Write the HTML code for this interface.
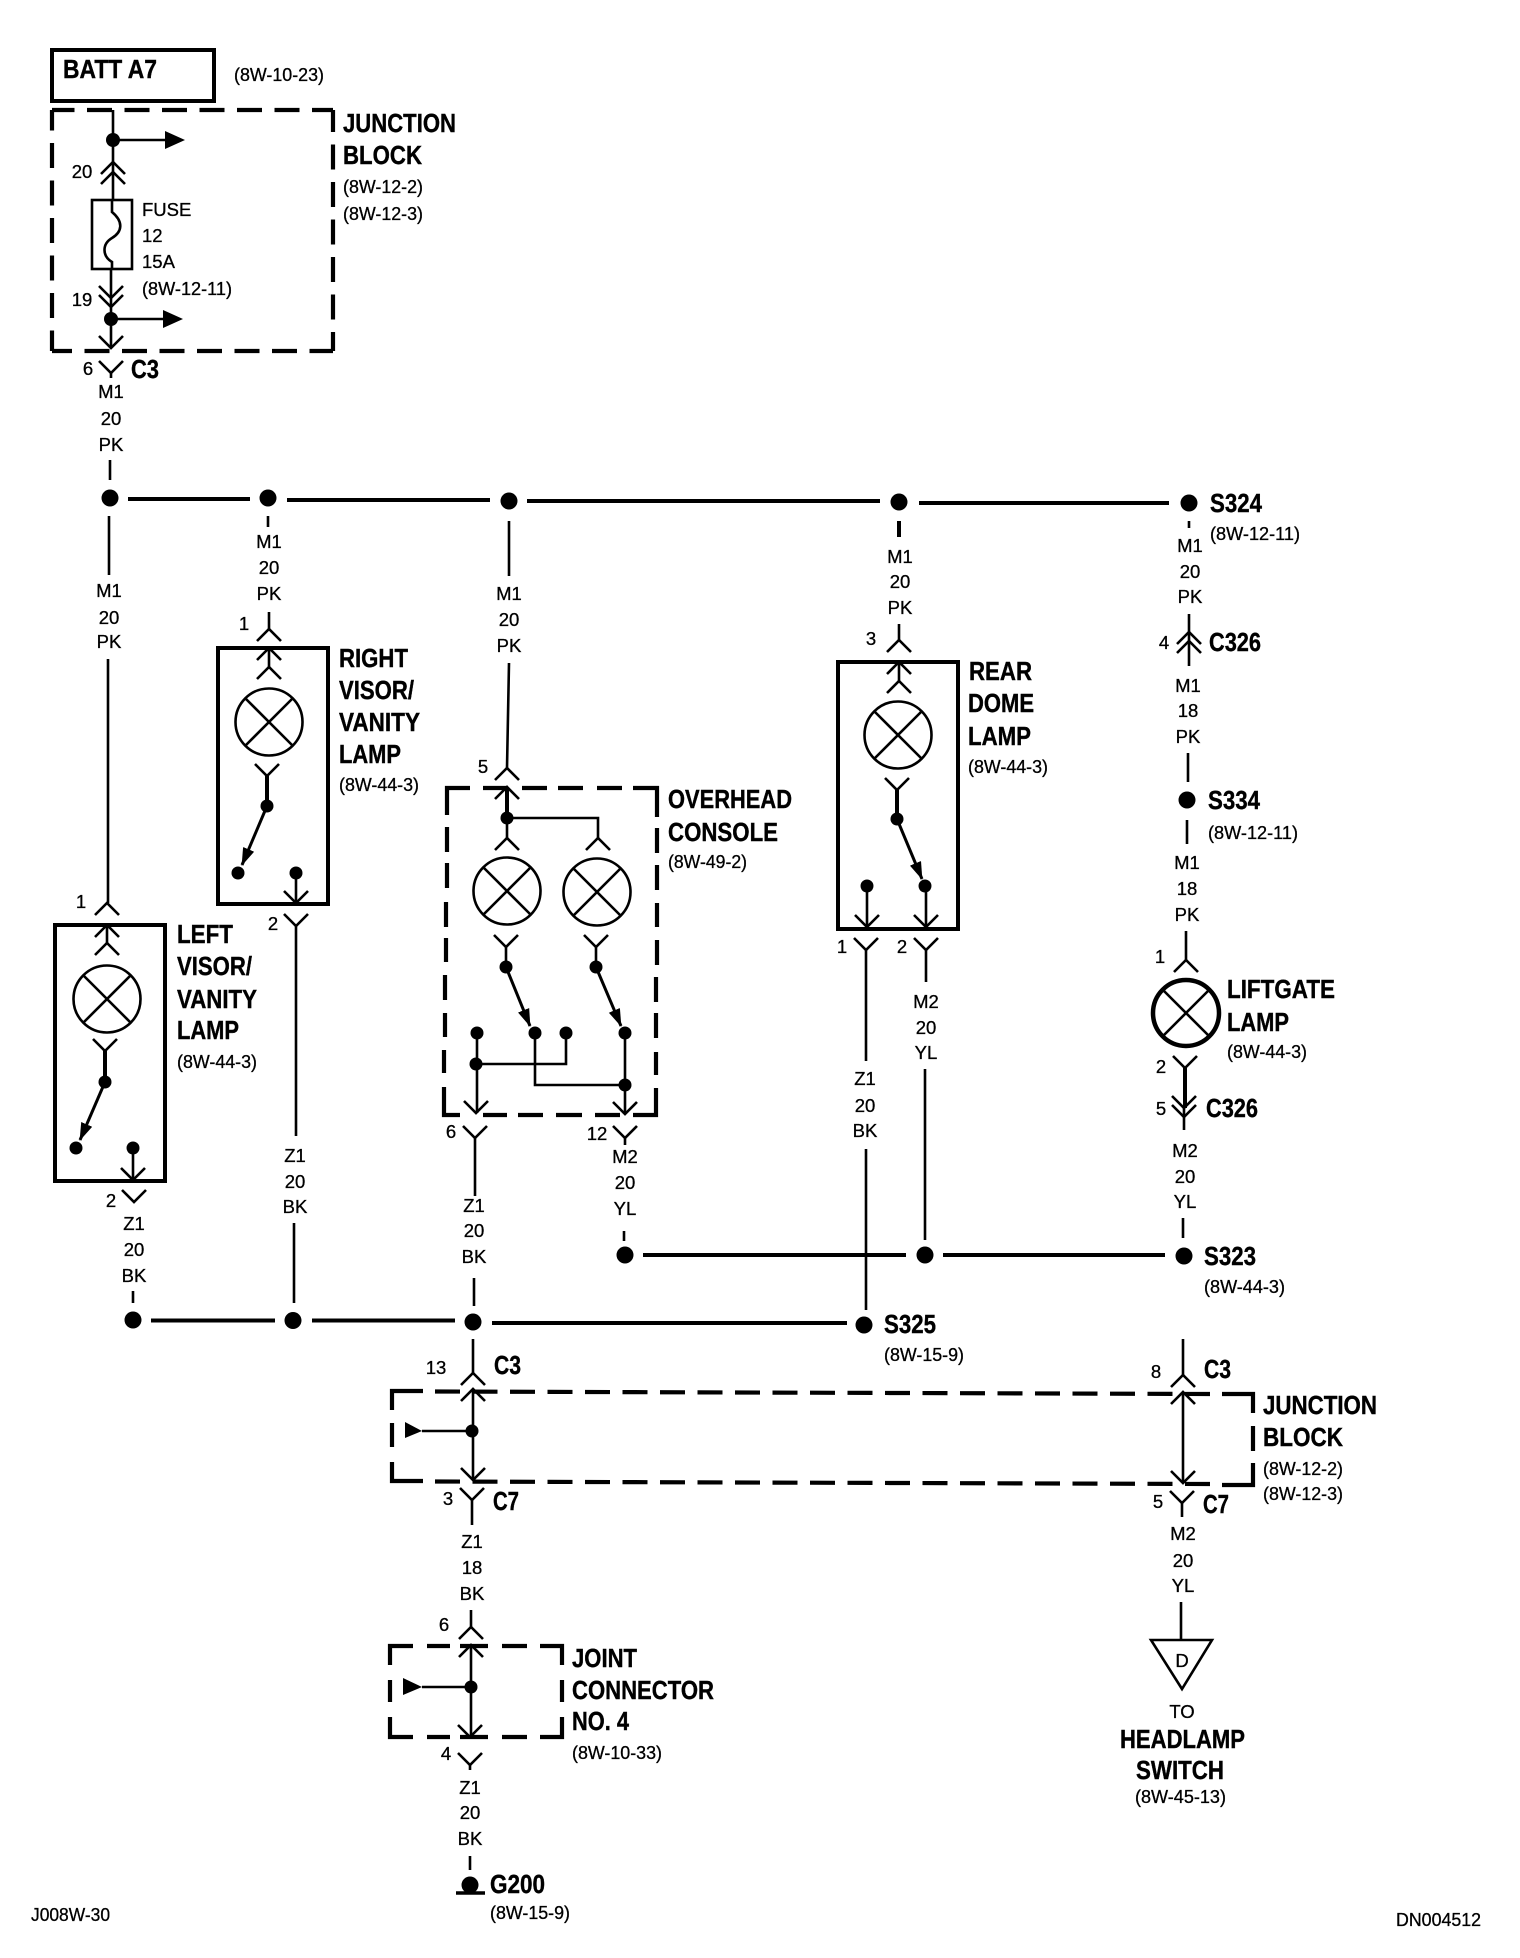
<!DOCTYPE html>
<html><head><meta charset="utf-8"><style>
html,body{margin:0;padding:0;background:#fff}
svg{display:block}
text{font-family:"Liberation Sans",sans-serif;fill:#000}
.s{font-size:18.5px;stroke:#000;stroke-width:.3px}
.c{font-size:18.5px;text-anchor:middle;stroke:#000;stroke-width:.3px}
.b{font-size:26px;font-weight:bold;stroke:#000;stroke-width:.4px}
.w{fill:none;stroke:#000;stroke-width:2.6}
.t{fill:none;stroke:#000;stroke-width:4}
.d{fill:none;stroke:#000;stroke-width:4.2;stroke-dasharray:25 12.5}
.e{fill:none;stroke:#000;stroke-width:4.2}
.f{fill:#000;stroke:none}
</style></head><body>
<svg width="1520" height="1958" viewBox="0 0 1520 1958" xmlns="http://www.w3.org/2000/svg">
<defs>
<path id="u" class="w" d="M-12 12L0 0L12 12"/>
<path id="n" class="w" d="M-12 -12L0 0L12 -12"/>
<g id="l"><circle class="w" r="33.5"/><path class="w" d="M-24 -24L24 24M24 -24L-24 24"/></g>
<marker id="a" markerUnits="userSpaceOnUse" markerWidth="20" markerHeight="14" refX="17" refY="6" orient="auto"><path class="f" d="M0 0L18 6L0 12Z"/></marker>
</defs>
<rect width="1520" height="1958" fill="#fff"/>

<!-- BATT -->
<rect class="t" x="52" y="50" width="162" height="51"/>
<text class="b" x="63" y="78" textLength="94" lengthAdjust="spacingAndGlyphs">BATT A7</text>
<text class="s" x="234" y="81" textLength="90" lengthAdjust="spacingAndGlyphs">(8W-10-23)</text>

<!-- Top junction block -->
<path class="d" d="M52 110H333" stroke-dashoffset="2.5"/>
<path class="d" d="M52 351H333" stroke-dashoffset="5"/>
<path class="d" d="M52 110V351" stroke-dashoffset="4.5"/>
<path class="d" d="M333 110V351" stroke-dashoffset="3"/>
<path class="w" d="M113 110V200M113 140H170M111 269V348M111 319H168"/>
<path class="f" d="M165 131L185 140L165 149ZM163 310L183 319L163 328Z"/>
<circle class="f" cx="113" cy="140" r="7"/><circle class="f" cx="111" cy="319" r="7"/>
<use href="#u" x="113" y="162"/><use href="#u" x="113" y="172"/>
<use href="#n" x="111" y="298"/><use href="#n" x="111" y="307"/><use href="#n" x="111" y="348"/>
<rect class="w" x="92" y="200" width="40" height="69"/>
<path class="w" d="M112 200V212C124 222 122 232 112 238C102 244 102 256 112 262V269"/>
<use href="#n" x="111" y="373"/><path class="w" d="M111 373V378"/>
<text class="c" x="82" y="178">20</text><text class="c" x="82" y="306">19</text><text class="c" x="88" y="375">6</text>
<text class="b" x="131" y="378" textLength="28" lengthAdjust="spacingAndGlyphs">C3</text>
<text class="s" x="142" y="216">FUSE</text><text class="s" x="142" y="242">12</text><text class="s" x="142" y="268">15A</text>
<text class="s" x="142" y="295" textLength="90" lengthAdjust="spacingAndGlyphs">(8W-12-11)</text>
<text class="b" x="343" y="132" textLength="113" lengthAdjust="spacingAndGlyphs">JUNCTION</text>
<text class="b" x="343" y="164" textLength="79" lengthAdjust="spacingAndGlyphs">BLOCK</text>
<text class="s" x="343" y="193" textLength="80" lengthAdjust="spacingAndGlyphs">(8W-12-2)</text>
<text class="s" x="343" y="220" textLength="80" lengthAdjust="spacingAndGlyphs">(8W-12-3)</text>
<text class="c" x="111" y="398">M1</text><text class="c" x="111" y="425">20</text><text class="c" x="111" y="451">PK</text>
<path class="w" d="M110 460V480"/>

<!-- Bus 1 -->
<path class="t" d="M128 499H250M287 500H490M527 501H880M919 503H1169"/>
<circle class="f" cx="110" cy="498" r="8.5"/><circle class="f" cx="268" cy="498" r="8.5"/><circle class="f" cx="509" cy="501" r="8.5"/><circle class="f" cx="899" cy="502" r="8.5"/><circle class="f" cx="1189" cy="503" r="8.5"/>
<text class="b" x="1210" y="512" textLength="52" lengthAdjust="spacingAndGlyphs">S324</text>
<text class="s" x="1210" y="540" textLength="90" lengthAdjust="spacingAndGlyphs">(8W-12-11)</text>

<!-- Column A: Left visor -->
<path class="w" d="M109 516V575M108 659V903"/>
<text class="c" x="109" y="597">M1</text><text class="c" x="109" y="624">20</text><text class="c" x="109" y="648">PK</text>
<use href="#u" x="107" y="903"/><text class="c" x="81" y="908">1</text>
<rect class="t" x="55" y="925" width="110" height="256"/>
<path class="w" d="M107 925V943"/><use href="#u" x="107" y="925"/><use href="#u" x="107" y="943"/>
<use href="#l" x="107" y="999"/>
<use href="#n" x="105" y="1051"/><path class="t" d="M105 1051V1082"/>
<circle class="f" cx="105" cy="1082" r="6.5"/><circle class="f" cx="76" cy="1148" r="6.5"/><circle class="f" cx="133" cy="1148" r="6.5"/>
<path class="w" style="stroke-width:3" d="M105 1082L80 1140" marker-end="url(#a)"/>
<path class="w" d="M133 1148V1180"/><use href="#n" x="133" y="1180"/>
<use href="#n" x="134" y="1202"/><text class="c" x="111" y="1207">2</text>
<text class="c" x="134" y="1230">Z1</text><text class="c" x="134" y="1256">20</text><text class="c" x="134" y="1282">BK</text>
<path class="w" d="M133 1291V1303"/>
<text class="b" x="177" y="943" textLength="56" lengthAdjust="spacingAndGlyphs">LEFT</text>
<text class="b" x="177" y="975" textLength="75" lengthAdjust="spacingAndGlyphs">VISOR/</text>
<text class="b" x="177" y="1008" textLength="80" lengthAdjust="spacingAndGlyphs">VANITY</text>
<text class="b" x="177" y="1039" textLength="62" lengthAdjust="spacingAndGlyphs">LAMP</text>
<text class="s" x="177" y="1068" textLength="80" lengthAdjust="spacingAndGlyphs">(8W-44-3)</text>

<!-- Column B: Right visor -->
<path class="w" d="M268 516V527M269 612V629"/>
<text class="c" x="269" y="548">M1</text><text class="c" x="269" y="574">20</text><text class="c" x="269" y="600">PK</text>
<use href="#u" x="269" y="629"/><text class="c" x="244" y="630">1</text>
<rect class="t" x="218" y="648" width="110" height="256"/>
<path class="w" d="M269 648V667"/><use href="#u" x="269" y="648"/><use href="#u" x="269" y="667"/>
<use href="#l" x="269" y="722"/>
<use href="#n" x="267" y="776"/><path class="t" d="M267 776V806"/>
<circle class="f" cx="267" cy="806" r="6.5"/><circle class="f" cx="238" cy="873" r="6.5"/><circle class="f" cx="296" cy="873" r="6.5"/>
<path class="w" style="stroke-width:3" d="M267 806L242 865" marker-end="url(#a)"/>
<path class="w" d="M296 873V903"/><use href="#n" x="296" y="903"/>
<use href="#n" x="296" y="926"/><path class="w" d="M296 926V1136M294 1223V1303"/>
<text class="c" x="273" y="930">2</text>
<text class="c" x="295" y="1162">Z1</text><text class="c" x="295" y="1188">20</text><text class="c" x="295" y="1213">BK</text>
<text class="b" x="339" y="667" textLength="69" lengthAdjust="spacingAndGlyphs">RIGHT</text>
<text class="b" x="339" y="699" textLength="75" lengthAdjust="spacingAndGlyphs">VISOR/</text>
<text class="b" x="339" y="731" textLength="81" lengthAdjust="spacingAndGlyphs">VANITY</text>
<text class="b" x="339" y="763" textLength="62" lengthAdjust="spacingAndGlyphs">LAMP</text>
<text class="s" x="339" y="791" textLength="80" lengthAdjust="spacingAndGlyphs">(8W-44-3)</text>

<!-- Column C: Overhead console -->
<path class="w" d="M509 521V576M509 663L507 768"/>
<text class="c" x="509" y="600">M1</text><text class="c" x="509" y="626">20</text><text class="c" x="509" y="652">PK</text>
<use href="#u" x="507" y="768"/><text class="c" x="483" y="773">5</text>
<path class="e" d="M447 815V788H470M633 788H657V817M657 828V853M657 865V890M657 903V927M657 940V965M656 977V1002M656 1013V1038M656 1052V1075M656 1088V1115H633M483 788H508M522 788H547M558 788H583M597 788H622"/>
<path class="e" d="M447 827V852M447 863V888M446 902V927M446 938V962M445 975V1000M445 1013V1037M444 1050V1073M444 1087V1115H460M483 1115H507M518 1115H543M556 1115H582M595 1115H620"/>
<use href="#u" x="507" y="787"/>
<path class="t" d="M507 787V818"/><path class="w" d="M507 818V838M507 818H598V838"/>
<circle class="f" cx="507" cy="818" r="6.5"/>
<use href="#u" x="507" y="838"/><use href="#u" x="598" y="838"/>
<use href="#l" x="507" y="891"/><use href="#l" x="597" y="892"/>
<use href="#n" x="506" y="947"/><use href="#n" x="596" y="947"/>
<path class="w" d="M506 947V967M596 947V967"/>
<circle class="f" cx="506" cy="967" r="6.5"/><circle class="f" cx="596" cy="967" r="6.5"/>
<path class="w" style="stroke-width:3" d="M506 967L530 1026" marker-end="url(#a)"/><path class="w" style="stroke-width:3" d="M596 967L621 1026" marker-end="url(#a)"/>
<circle class="f" cx="477" cy="1033" r="6.5"/><circle class="f" cx="535" cy="1033" r="6.5"/><circle class="f" cx="566" cy="1033" r="6.5"/><circle class="f" cx="625" cy="1033" r="6.5"/>
<path class="w" d="M477 1033V1113M476 1064H566V1033M535 1033V1085H625M625 1033V1114"/>
<circle class="f" cx="476" cy="1064" r="6.5"/><circle class="f" cx="625" cy="1085" r="6.5"/>
<use href="#n" x="476" y="1113"/><use href="#n" x="625" y="1114"/>
<use href="#n" x="475" y="1138"/><use href="#n" x="625" y="1138"/>
<path class="w" d="M475 1138V1196M625 1138V1145"/>
<text class="c" x="451" y="1138">6</text><text class="c" x="597" y="1140">12</text>
<text class="c" x="474" y="1212">Z1</text><text class="c" x="474" y="1237">20</text><text class="c" x="474" y="1263">BK</text>
<path class="w" d="M474 1278V1306"/>
<text class="c" x="625" y="1163">M2</text><text class="c" x="625" y="1189">20</text><text class="c" x="625" y="1215">YL</text>
<path class="w" d="M624 1231V1241"/>
<text class="b" x="668" y="808" textLength="124" lengthAdjust="spacingAndGlyphs">OVERHEAD</text>
<text class="b" x="668" y="841" textLength="110" lengthAdjust="spacingAndGlyphs">CONSOLE</text>
<text class="s" x="668" y="868" textLength="79" lengthAdjust="spacingAndGlyphs">(8W-49-2)</text>

<!-- Column D: Rear dome -->
<path class="t" d="M899 521V537"/>
<text class="c" x="900" y="563">M1</text><text class="c" x="900" y="588">20</text><text class="c" x="900" y="614">PK</text>
<path class="w" d="M899 624V640"/><use href="#u" x="899" y="640"/><text class="c" x="871" y="645">3</text>
<rect class="t" x="838" y="662" width="120" height="267"/>
<path class="w" d="M899 662V681"/><use href="#u" x="899" y="662"/><use href="#u" x="899" y="681"/>
<use href="#l" x="898" y="735"/>
<use href="#n" x="897" y="790"/><path class="t" d="M897 790V819"/>
<circle class="f" cx="897" cy="819" r="6.5"/><circle class="f" cx="925" cy="886" r="6.5"/><circle class="f" cx="867" cy="886" r="6.5"/>
<path class="w" style="stroke-width:3" d="M897 819L922 879" marker-end="url(#a)"/>
<path class="w" d="M867 886V927M926 886V927"/><use href="#n" x="867" y="927"/><use href="#n" x="926" y="927"/>
<use href="#n" x="866" y="950"/><use href="#n" x="926" y="950"/>
<path class="w" d="M866 950V1061M926 950V982M866 1149V1310M925 1069V1240"/>
<text class="c" x="842" y="953">1</text><text class="c" x="902" y="953">2</text>
<text class="c" x="926" y="1008">M2</text><text class="c" x="926" y="1034">20</text><text class="c" x="926" y="1059">YL</text>
<text class="c" x="865" y="1085">Z1</text><text class="c" x="865" y="1112">20</text><text class="c" x="865" y="1137">BK</text>
<text class="b" x="969" y="680" textLength="63" lengthAdjust="spacingAndGlyphs">REAR</text>
<text class="b" x="968" y="712" textLength="66" lengthAdjust="spacingAndGlyphs">DOME</text>
<text class="b" x="968" y="745" textLength="63" lengthAdjust="spacingAndGlyphs">LAMP</text>
<text class="s" x="968" y="773" textLength="80" lengthAdjust="spacingAndGlyphs">(8W-44-3)</text>

<!-- Column E: Liftgate -->
<path class="w" d="M1189 521V528M1189 614V666"/>
<text class="c" x="1190" y="552">M1</text><text class="c" x="1190" y="578">20</text><text class="c" x="1190" y="603">PK</text>
<use href="#u" x="1189" y="632"/><use href="#u" x="1189" y="641"/>
<text class="c" x="1164" y="649">4</text>
<text class="b" x="1209" y="651" textLength="52" lengthAdjust="spacingAndGlyphs">C326</text>
<text class="c" x="1188" y="692">M1</text><text class="c" x="1188" y="717">18</text><text class="c" x="1188" y="743">PK</text>
<path class="w" d="M1188 753V782M1187 820V844M1186 931V960"/>
<circle class="f" cx="1187" cy="800" r="8.5"/>
<text class="b" x="1208" y="809" textLength="52" lengthAdjust="spacingAndGlyphs">S334</text>
<text class="s" x="1208" y="839" textLength="90" lengthAdjust="spacingAndGlyphs">(8W-12-11)</text>
<text class="c" x="1187" y="869">M1</text><text class="c" x="1187" y="895">18</text><text class="c" x="1187" y="921">PK</text>
<use href="#u" x="1186" y="960"/><text class="c" x="1160" y="963">1</text>
<circle cx="1186" cy="1013" r="33" fill="none" stroke="#000" stroke-width="4.5"/>
<path class="w" d="M1162 989L1210 1037M1210 989L1162 1037"/>
<use href="#n" x="1185" y="1068"/><path class="t" d="M1185 1068V1108"/>
<use href="#n" x="1184" y="1108"/><use href="#n" x="1184" y="1117"/>
<path class="w" d="M1184 1108V1130"/>
<text class="c" x="1161" y="1073">2</text><text class="c" x="1161" y="1115">5</text>
<text class="b" x="1206" y="1117" textLength="52" lengthAdjust="spacingAndGlyphs">C326</text>
<text class="b" x="1227" y="998" textLength="108" lengthAdjust="spacingAndGlyphs">LIFTGATE</text>
<text class="b" x="1227" y="1031" textLength="62" lengthAdjust="spacingAndGlyphs">LAMP</text>
<text class="s" x="1227" y="1058" textLength="80" lengthAdjust="spacingAndGlyphs">(8W-44-3)</text>
<text class="c" x="1185" y="1157">M2</text><text class="c" x="1185" y="1183">20</text><text class="c" x="1185" y="1208">YL</text>
<path class="w" d="M1183 1218V1238"/>

<!-- Bus 2 -->
<path class="t" d="M643 1255H906M943 1255H1165"/>
<circle class="f" cx="625" cy="1255" r="8.5"/><circle class="f" cx="925" cy="1255" r="8.5"/><circle class="f" cx="1184" cy="1256" r="8.5"/>
<text class="b" x="1204" y="1265" textLength="52" lengthAdjust="spacingAndGlyphs">S323</text>
<text class="s" x="1204" y="1293" textLength="81" lengthAdjust="spacingAndGlyphs">(8W-44-3)</text>

<!-- Bus 3 -->
<path class="t" d="M151 1320.5H275M312 1320.5H455M492 1323H847"/>
<circle class="f" cx="133" cy="1320" r="8.5"/><circle class="f" cx="293" cy="1320.5" r="8.5"/><circle class="f" cx="473" cy="1322" r="8.5"/><circle class="f" cx="864" cy="1325" r="8.5"/>
<text class="b" x="884" y="1333" textLength="52" lengthAdjust="spacingAndGlyphs">S325</text>
<text class="s" x="884" y="1361" textLength="80" lengthAdjust="spacingAndGlyphs">(8W-15-9)</text>

<!-- Lower junction block -->
<path class="w" d="M473 1339V1373"/>
<use href="#u" x="473" y="1373"/><text class="c" x="436" y="1374">13</text>
<text class="b" x="494" y="1374" textLength="27" lengthAdjust="spacingAndGlyphs">C3</text>
<path class="e" d="M392 1410V1391H423M392 1423V1447M392 1462V1481H423"/>
<path class="d" d="M435 1391.5L1210 1394"/>
<path class="d" d="M435 1481.5L1210 1484"/>
<path class="e" d="M1222 1394H1253V1413M1253 1426V1451M1253 1463V1485H1222"/>
<use href="#u" x="473" y="1389"/><path class="w" d="M473 1389V1480"/>
<circle class="f" cx="472" cy="1431" r="6.5"/>
<path class="w" d="M422 1431H472"/><path class="f" d="M405 1422L422 1431L405 1438Z"/>
<use href="#n" x="473" y="1480"/>
<use href="#n" x="472" y="1500"/><path class="w" d="M472 1500V1525"/>
<text class="c" x="448" y="1505">3</text>
<text class="b" x="493" y="1510" textLength="26" lengthAdjust="spacingAndGlyphs">C7</text>
<text class="c" x="472" y="1548">Z1</text><text class="c" x="472" y="1574">18</text><text class="c" x="472" y="1600">BK</text>
<path class="w" d="M471 1610V1627"/><use href="#u" x="471" y="1627"/>
<text class="c" x="444" y="1631">6</text>

<path class="w" d="M1183 1339V1375"/><use href="#u" x="1183" y="1375"/>
<text class="c" x="1156" y="1378">8</text><text class="b" x="1204" y="1378" textLength="27" lengthAdjust="spacingAndGlyphs">C3</text>
<use href="#u" x="1183" y="1392"/><path class="w" d="M1183 1392V1483"/>
<use href="#n" x="1183" y="1483"/>
<use href="#n" x="1182" y="1503"/><path class="w" d="M1182 1503V1517"/>
<text class="c" x="1158" y="1508">5</text>
<text class="b" x="1203" y="1513" textLength="26" lengthAdjust="spacingAndGlyphs">C7</text>
<text class="b" x="1263" y="1414" textLength="114" lengthAdjust="spacingAndGlyphs">JUNCTION</text>
<text class="b" x="1263" y="1446" textLength="80" lengthAdjust="spacingAndGlyphs">BLOCK</text>
<text class="s" x="1263" y="1475" textLength="80" lengthAdjust="spacingAndGlyphs">(8W-12-2)</text>
<text class="s" x="1263" y="1500" textLength="80" lengthAdjust="spacingAndGlyphs">(8W-12-3)</text>
<text class="c" x="1183" y="1540">M2</text><text class="c" x="1183" y="1567">20</text><text class="c" x="1183" y="1592">YL</text>
<path class="w" d="M1181 1602V1640"/>
<path class="w" d="M1151 1640H1212L1182 1689Z"/>
<text class="c" x="1182" y="1667">D</text>
<text class="c" x="1182" y="1718">TO</text>
<text class="b" x="1120" y="1748" textLength="125" lengthAdjust="spacingAndGlyphs">HEADLAMP</text>
<text class="b" x="1136" y="1779" textLength="88" lengthAdjust="spacingAndGlyphs">SWITCH</text>
<text class="s" x="1135" y="1803" textLength="91" lengthAdjust="spacingAndGlyphs">(8W-45-13)</text>

<!-- Joint connector -->
<path class="e" d="M390 1665V1646H413M427 1646H450M460 1646H488M502 1646H527M540 1646H562V1665M562 1680V1702M562 1717V1737H540M527 1737H502M488 1737H460M450 1737H427M413 1737H390V1717M390 1680V1702"/>
<use href="#u" x="471" y="1645"/><path class="w" d="M471 1645V1737"/>
<circle class="f" cx="471" cy="1687" r="6.5"/>
<path class="w" d="M422 1687H471"/><path class="f" d="M403 1678L422 1687L403 1695Z"/>
<use href="#n" x="470" y="1737"/>
<use href="#n" x="470" y="1765"/><path class="w" d="M470 1765V1770"/>
<text class="c" x="446" y="1760">4</text>
<text class="b" x="572" y="1667" textLength="65" lengthAdjust="spacingAndGlyphs">JOINT</text>
<text class="b" x="572" y="1699" textLength="142" lengthAdjust="spacingAndGlyphs">CONNECTOR</text>
<text class="b" x="572" y="1730" textLength="57" lengthAdjust="spacingAndGlyphs">NO. 4</text>
<text class="s" x="572" y="1759" textLength="90" lengthAdjust="spacingAndGlyphs">(8W-10-33)</text>
<text class="c" x="470" y="1794">Z1</text><text class="c" x="470" y="1819">20</text><text class="c" x="470" y="1845">BK</text>
<path class="w" d="M470 1856V1870"/>
<circle class="f" cx="470" cy="1885" r="8.5"/>
<path class="w" d="M456 1893H485" style="stroke-width:3.5"/>
<text class="b" x="490" y="1893" textLength="55" lengthAdjust="spacingAndGlyphs">G200</text>
<text class="s" x="490" y="1919" textLength="80" lengthAdjust="spacingAndGlyphs">(8W-15-9)</text>

<!-- Footer -->
<text class="s" x="31" y="1921" textLength="79" lengthAdjust="spacingAndGlyphs">J008W-30</text>
<text class="s" x="1396" y="1926" textLength="85" lengthAdjust="spacingAndGlyphs">DN004512</text>
</svg>
</body></html>
